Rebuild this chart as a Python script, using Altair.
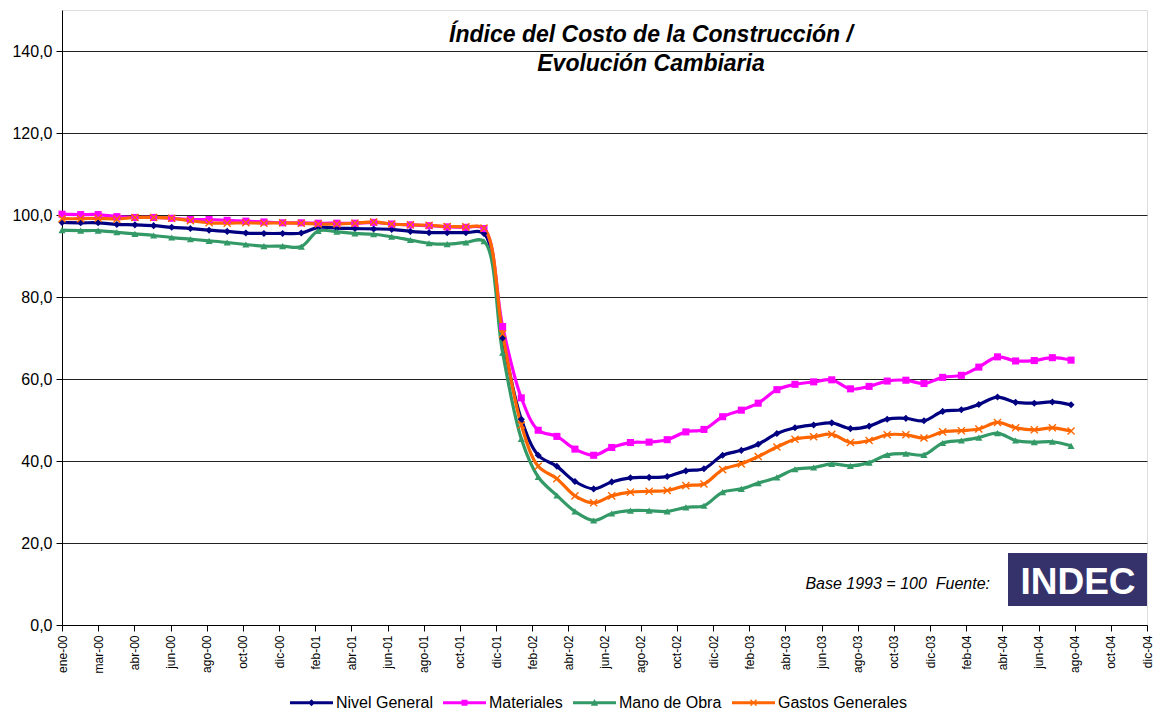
import json
import altair as alt
import pandas as pd

# ---------------- data ----------------
months = [f"{y}-{m:02d}-01" for y in range(2000, 2005) for m in range(1, 13)][:56]

series = ["Nivel General", "Materiales", "Mano de Obra", "Gastos Generales"]
colors = ["#000080", "#FF00FF", "#339966", "#FF6600"]

nivel_general = [
    98.2, 98.1, 98.1, 97.7, 97.6, 97.4, 97.0, 96.7, 96.3, 96.0, 95.6, 95.5,
    95.5, 95.6, 97.0, 96.8, 96.7, 96.6, 96.5, 96.0, 95.7, 95.7, 95.7, 95.5,
    70.0, 50.2, 41.4, 38.7, 35.0, 33.2, 34.9, 35.9, 36.0, 36.2, 37.6, 38.1,
    41.4, 42.6, 44.1, 46.7, 48.1, 48.8, 49.3, 47.9, 48.5, 50.2, 50.4, 49.8,
    52.1, 52.5, 53.8, 55.6, 54.3, 54.1, 54.4, 53.7,
]
materiales = [
    100.2, 100.1, 100.1, 99.6, 99.4, 99.4, 99.2, 98.9, 98.9, 98.7, 98.5, 98.3,
    98.1, 98.1, 98.0, 98.0, 98.0, 98.2, 97.8, 97.6, 97.4, 97.1, 97.0, 96.7,
    72.8, 55.4, 47.5, 46.0, 42.9, 41.4, 43.3, 44.5, 44.6, 45.2, 47.1, 47.7,
    50.8, 52.4, 54.1, 57.4, 58.7, 59.3, 59.8, 57.6, 58.2, 59.5, 59.7, 58.9,
    60.4, 60.9, 62.9, 65.4, 64.4, 64.5, 65.2, 64.6,
]
mano_de_obra = [
    96.3, 96.2, 96.2, 95.8, 95.4, 95.0, 94.5, 94.1, 93.7, 93.3, 92.8, 92.4,
    92.4, 92.3, 96.1, 95.9, 95.5, 95.3, 94.7, 93.9, 93.1, 92.9, 93.3, 93.6,
    66.4, 45.4, 36.1, 31.6, 27.7, 25.5, 27.2, 27.9, 27.9, 27.7, 28.7, 29.1,
    32.4, 33.2, 34.6, 36.0, 38.0, 38.4, 39.3, 38.8, 39.6, 41.5, 41.8, 41.5,
    44.4, 45.0, 45.7, 46.8, 45.0, 44.6, 44.7, 43.7,
]
gastos_generales = [
    99.1, 99.1, 99.2, 99.0, 99.4, 99.4, 99.2, 98.6, 98.1, 98.0, 98.1, 98.0,
    98.1, 98.0, 97.8, 97.8, 98.0, 98.3, 97.8, 97.6, 97.5, 97.2, 97.1, 96.8,
    71.0, 48.8, 38.7, 35.7, 31.5, 29.8, 31.5, 32.4, 32.6, 32.8, 34.0, 34.4,
    37.9, 39.3, 41.1, 43.4, 45.3, 45.9, 46.5, 44.5, 45.0, 46.4, 46.4, 45.6,
    47.1, 47.4, 47.8, 49.4, 48.1, 47.6, 48.1, 47.3,
]

tick_labels = [
    "ene-00", "mar-00", "abr-00", "jun-00", "ago-00", "oct-00", "dic-00",
    "feb-01", "abr-01", "jun-01", "ago-01", "oct-01", "dic-01",
    "feb-02", "abr-02", "jun-02", "ago-02", "oct-02", "dic-02",
    "feb-03", "abr-03", "jun-03", "ago-03", "oct-03", "dic-03",
    "feb-04", "abr-04", "jun-04", "ago-04", "oct-04", "dic-04",
]
y_ticks = [0, 20, 40, 60, 80, 100, 120, 140]

title_lines = ["Índice del Costo de la Construcción /", "Evolución Cambiaria"]
note_text = "Base 1993 = 100\u00a0 Fuente:"
logo_text = "INDEC"

# ---------------- table ----------------
origin = pd.Timestamp("2000-01-01")
days = [(pd.Timestamp(m) - origin).days for m in months]
tick_days = [i * 60 for i in range(len(tick_labels))]  # Excel date axis, 60-day major unit

rows = []
for name, vals in zip(series, [nivel_general, materiales, mano_de_obra, gastos_generales]):
    for d, m, v in zip(days, months, vals):
        rows.append({"serie": name, "mes": m, "dia": d, "valor": v})
df = pd.DataFrame(rows)

FONT = "Liberation Sans"
W, H = 1085, 615

x_enc = alt.X(
    "dia:Q",
    scale=alt.Scale(domain=[0, tick_days[-1]], nice=False, zero=False),
    axis=alt.Axis(
        values=tick_days,
        labelExpr=json.dumps(tick_labels) + "[round(datum.value / 60)]",
        labelAngle=-90, labelAlign="right", labelBaseline="middle",
        labelFontSize=12, labelFont=FONT, labelColor="black", labelPadding=4,
        labelOverlap=False, labelBound=False, labelFlush=False,
        tickSize=6, tickColor="black", domainColor="black",
        grid=False, title=None,
    ),
)
y_enc = alt.Y(
    "valor:Q",
    scale=alt.Scale(domain=[0, 150], nice=False, zero=True),
    axis=alt.Axis(
        values=y_ticks,
        labelExpr="replace(format(datum.value, '.1f'), '.', ',')",
        labelFontSize=16, labelFont=FONT, labelColor="black", labelPadding=4,
        tickSize=6, tickColor="black", domainColor="black",
        grid=True, gridColor="#222222", gridWidth=1, title=None,
    ),
)

color_scale = alt.Scale(domain=series, range=colors)

x_path = "M-1.14,-0.86L0.86,1.14L1.14,0.86L-0.86,-1.14ZM-0.86,1.14L1.14,-0.86L0.86,-1.14L-1.14,0.86Z"
bar = "M-1,-0.07L1,-0.07L1,0.07L-1,0.07Z"
legend_paths = [
    bar + "M0,-0.16L0.16,0L0,0.16L-0.16,0Z",
    bar + "M-0.14,-0.14L0.14,-0.14L0.14,0.14L-0.14,0.14Z",
    bar + "M0,-0.17L0.17,0.14L-0.17,0.14Z",
    bar + "M-0.12,-0.16L0.16,0.12L0.12,0.16L-0.16,-0.12ZM-0.16,0.12L0.12,-0.16L0.16,-0.12L-0.12,0.16Z",
]

base = alt.Chart(df)

lines = base.mark_line(strokeWidth=3.2, interpolate="catmull-rom").encode(
    x=x_enc, y=y_enc,
    color=alt.Color("serie:N", scale=color_scale, legend=None),
    order=alt.Order("dia:Q"),
)

points = base.mark_point(filled=True, size=50, opacity=1, strokeWidth=0).encode(
    x=x_enc, y=y_enc,
    color=alt.Color("serie:N", scale=color_scale, legend=None),
    shape=alt.Shape("serie:N", scale=alt.Scale(domain=series,
                    range=["diamond", "square", "triangle-up", x_path]), legend=None),
)

leg = alt.Legend(
    orient="none", legendX=228, legendY=671, direction="horizontal", title=None,
    labelFontSize=16, labelFont=FONT, labelColor="black", symbolSize=1849,
    symbolStrokeWidth=0, labelOffset=3, columnPadding=10, padding=0,
)
legend_layer = base.transform_filter("false").mark_point(filled=True, opacity=1, strokeWidth=0).encode(
    x=x_enc, y=y_enc,
    color=alt.Color("serie:N", scale=color_scale, legend=leg),
    shape=alt.Shape("serie:N", scale=alt.Scale(domain=series, range=legend_paths), legend=leg),
)

one = alt.Chart(pd.DataFrame({"k": [0]}))
title = one.mark_text(
    text=title_lines, font=FONT, fontSize=23, fontWeight="bold", fontStyle="italic",
    align="center", baseline="alphabetic", lineHeight=29, color="black",
).encode(x=alt.value(589), y=alt.value(32))

note = one.mark_text(
    text=note_text, font=FONT, fontSize=16, fontStyle="italic",
    align="right", baseline="alphabetic", color="black",
).encode(x=alt.value(928), y=alt.value(579))

logo_box = one.mark_rect(color="#35326b").encode(
    x=alt.value(946), x2=alt.value(W), y=alt.value(543), y2=alt.value(596)
)
logo = one.mark_text(
    text=logo_text, font=FONT, fontSize=37, fontWeight="bold", color="white",
    align="center", baseline="alphabetic",
).encode(x=alt.value(1016), y=alt.value(584))

chart = alt.layer(lines, points, legend_layer, title, note, logo_box, logo).resolve_scale(
    color="independent", shape="independent"
).properties(
    width=W, height=H,
    autosize=alt.AutoSizeParams(type="none"),
    padding={"left": 54, "top": 2, "right": 6, "bottom": 87},
).configure_view(stroke="#808080", strokeWidth=2).configure(background="white")

chart.save("out.html", embed_options={"renderer": "svg", "actions": False})
